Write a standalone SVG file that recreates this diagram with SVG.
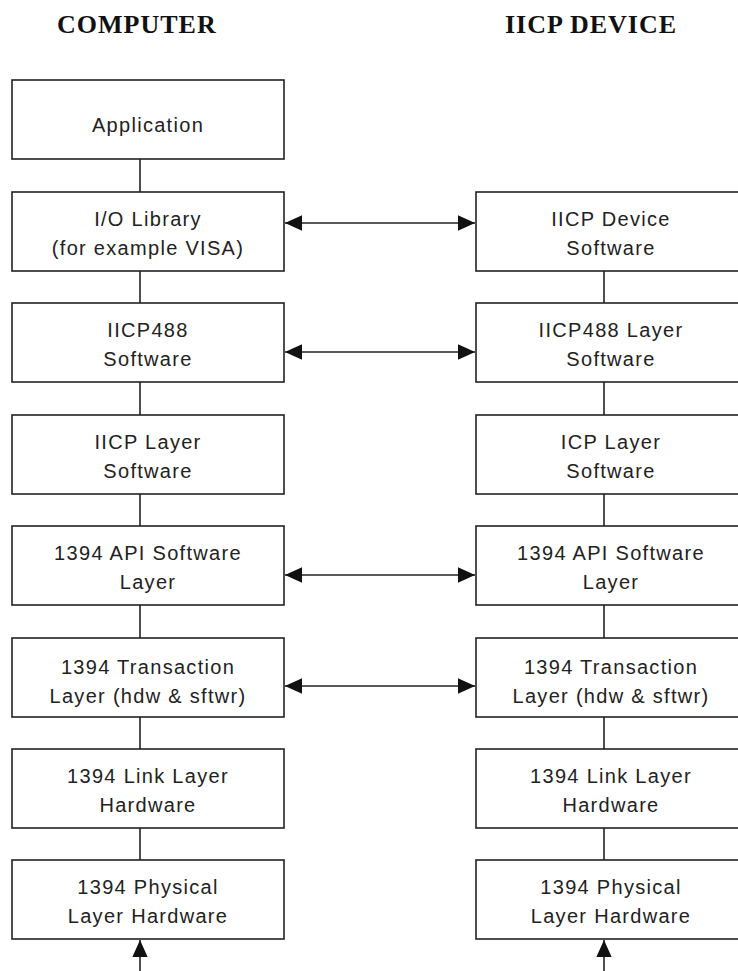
<svg xmlns="http://www.w3.org/2000/svg" width="738" height="971" viewBox="0 0 738 971">
<style>
.box{fill:#fff;stroke:#222;stroke-width:1.6}
.ln{stroke:#222;stroke-width:1.6;fill:none}
.t{font-family:"Liberation Sans",Arial,sans-serif;font-size:20px;letter-spacing:1.3px;fill:#222;text-anchor:middle}
.h{font-family:"Liberation Serif","Times New Roman",serif;font-weight:bold;font-size:26px;letter-spacing:1px;fill:#111}
</style>
<defs>
<marker id="ah" viewBox="0 0 10 10" refX="10" refY="5" markerWidth="17" markerHeight="17" markerUnits="userSpaceOnUse" orient="auto-start-reverse">
<path d="M0,0.5 L10,5 L0,9.5 Z" fill="#111"/>
</marker>
</defs>
<text class="h" x="57" y="33">COMPUTER</text>
<text class="h" x="505" y="33">IICP DEVICE</text>
<g id="connectors">
<line class="ln" x1="140" y1="159" x2="140" y2="192"/>
<line class="ln" x1="140" y1="271" x2="140" y2="303"/>
<line class="ln" x1="140" y1="382" x2="140" y2="415"/>
<line class="ln" x1="140" y1="494" x2="140" y2="526"/>
<line class="ln" x1="140" y1="605" x2="140" y2="638"/>
<line class="ln" x1="140" y1="717" x2="140" y2="749"/>
<line class="ln" x1="140" y1="828" x2="140" y2="860"/>
<line class="ln" x1="140" y1="971" x2="140" y2="940" marker-end="url(#ah)"/>
<line class="ln" x1="604" y1="271" x2="604" y2="303"/>
<line class="ln" x1="604" y1="382" x2="604" y2="415"/>
<line class="ln" x1="604" y1="494" x2="604" y2="526"/>
<line class="ln" x1="604" y1="605" x2="604" y2="638"/>
<line class="ln" x1="604" y1="717" x2="604" y2="749"/>
<line class="ln" x1="604" y1="828" x2="604" y2="860"/>
<line class="ln" x1="604" y1="971" x2="604" y2="940" marker-end="url(#ah)"/>
<line class="ln" x1="285" y1="223" x2="475" y2="223" marker-start="url(#ah)" marker-end="url(#ah)"/>
<line class="ln" x1="285" y1="352" x2="475" y2="352" marker-start="url(#ah)" marker-end="url(#ah)"/>
<line class="ln" x1="285" y1="575" x2="475" y2="575" marker-start="url(#ah)" marker-end="url(#ah)"/>
<line class="ln" x1="285" y1="686" x2="475" y2="686" marker-start="url(#ah)" marker-end="url(#ah)"/>
</g>
<g id="c-app"><rect class="box" x="12" y="80" width="272" height="79"/><text class="t" x="148" y="132">Application</text></g>
<g id="c-io"><rect class="box" x="12" y="192" width="272" height="79"/><text class="t" x="148" y="226">I/O Library</text><text class="t" x="148" y="255">(for example VISA)</text></g>
<g id="c-488"><rect class="box" x="12" y="303" width="272" height="79"/><text class="t" x="148" y="337">IICP488</text><text class="t" x="148" y="366">Software</text></g>
<g id="c-iicp"><rect class="box" x="12" y="415" width="272" height="79"/><text class="t" x="148" y="449">IICP Layer</text><text class="t" x="148" y="478">Software</text></g>
<g id="c-api"><rect class="box" x="12" y="526" width="272" height="79"/><text class="t" x="148" y="560">1394 API Software</text><text class="t" x="148" y="589">Layer</text></g>
<g id="c-trans"><rect class="box" x="12" y="638" width="272" height="79"/><text class="t" x="148" y="674">1394 Transaction</text><text class="t" x="148" y="703">Layer (hdw &amp; sftwr)</text></g>
<g id="c-link"><rect class="box" x="12" y="749" width="272" height="79"/><text class="t" x="148" y="783">1394 Link Layer</text><text class="t" x="148" y="812">Hardware</text></g>
<g id="c-phy"><rect class="box" x="12" y="860" width="272" height="79"/><text class="t" x="148" y="894">1394 Physical</text><text class="t" x="148" y="923">Layer Hardware</text></g>
<g id="d-dev"><rect class="box" x="476" y="192" width="272" height="79"/><text class="t" x="611" y="226">IICP Device</text><text class="t" x="611" y="255">Software</text></g>
<g id="d-488"><rect class="box" x="476" y="303" width="272" height="79"/><text class="t" x="611" y="337">IICP488 Layer</text><text class="t" x="611" y="366">Software</text></g>
<g id="d-icp"><rect class="box" x="476" y="415" width="272" height="79"/><text class="t" x="611" y="449">ICP Layer</text><text class="t" x="611" y="478">Software</text></g>
<g id="d-api"><rect class="box" x="476" y="526" width="272" height="79"/><text class="t" x="611" y="560">1394 API Software</text><text class="t" x="611" y="589">Layer</text></g>
<g id="d-trans"><rect class="box" x="476" y="638" width="272" height="79"/><text class="t" x="611" y="674">1394 Transaction</text><text class="t" x="611" y="703">Layer (hdw &amp; sftwr)</text></g>
<g id="d-link"><rect class="box" x="476" y="749" width="272" height="79"/><text class="t" x="611" y="783">1394 Link Layer</text><text class="t" x="611" y="812">Hardware</text></g>
<g id="d-phy"><rect class="box" x="476" y="860" width="272" height="79"/><text class="t" x="611" y="894">1394 Physical</text><text class="t" x="611" y="923">Layer Hardware</text></g>
</svg>
